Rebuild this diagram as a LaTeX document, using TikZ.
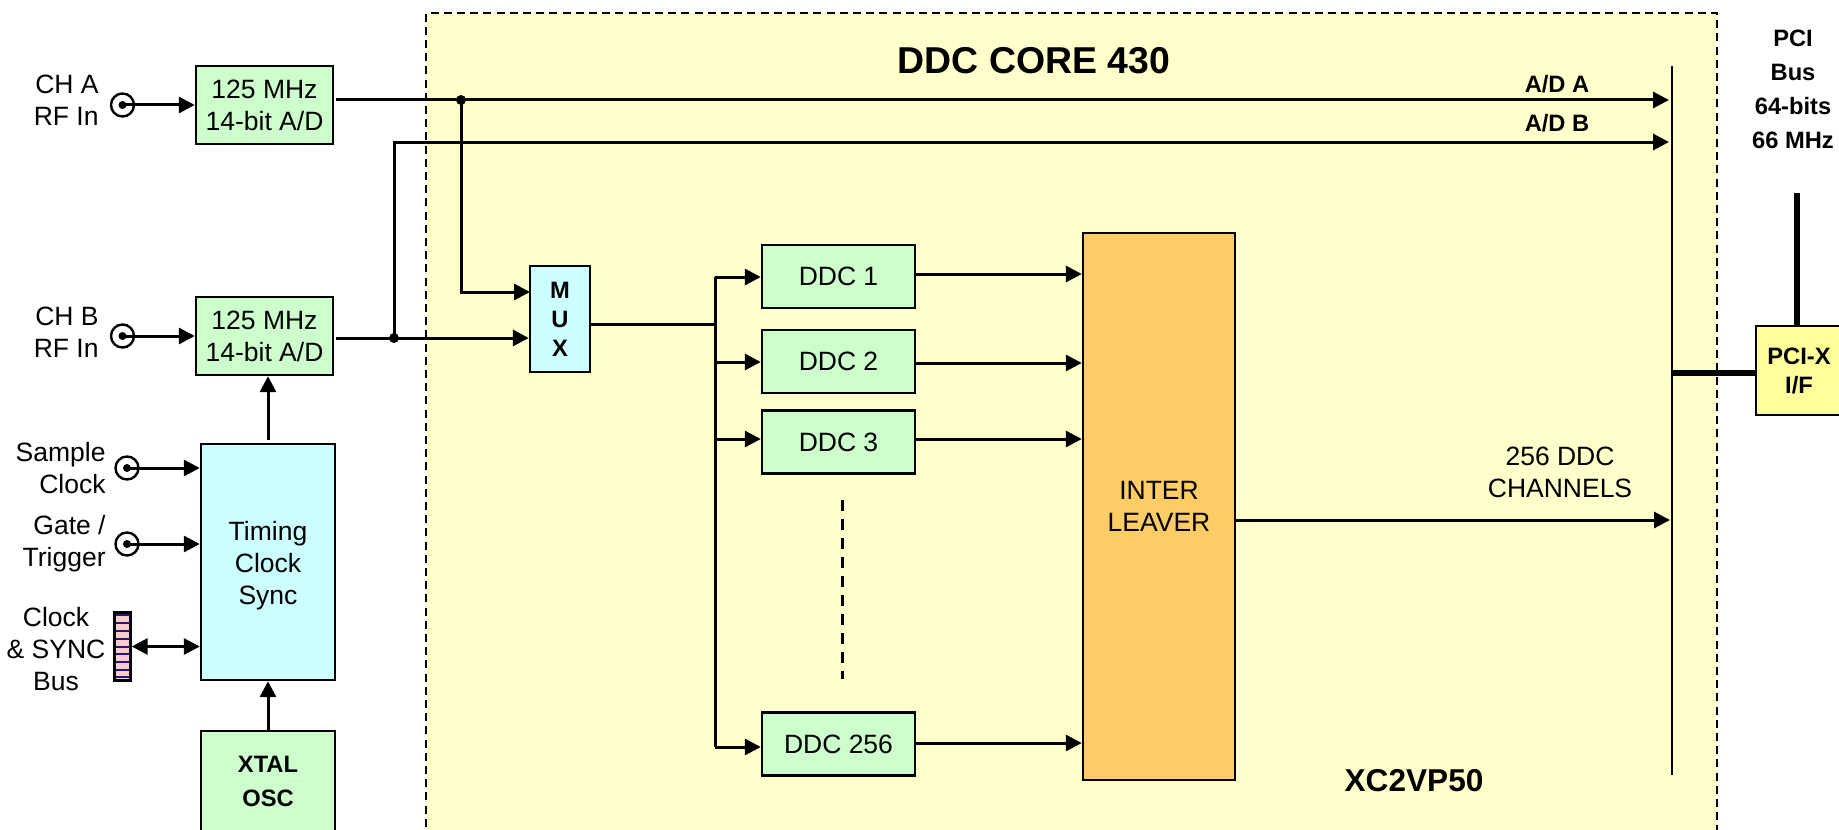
\documentclass[tikz,border=0pt]{standalone}
\usepackage{fontspec}
\setmainfont{Liberation Sans}
\usetikzlibrary{arrows.meta}
\definecolor{ddcgreen}{HTML}{CCFFCC}
\definecolor{clkcyan}{HTML}{CCFFFF}
\definecolor{coreyellow}{HTML}{FFFFCC}
\definecolor{ilvorange}{HTML}{FFCC66}
\definecolor{pciyellow}{HTML}{FFFF99}
\definecolor{buspink}{HTML}{FFCCCC}
\definecolor{busnavy}{HTML}{1A1A80}
\tikzset{
	block/.style={draw=black, line width=1.2pt, inner sep=0pt, align=center, font=\fontsize{13.25}{16}\selectfont, execute at begin node={\vspace*{1pt}}},
	boldblock/.style={block, font=\fontsize{11.85}{14.5}\selectfont\bfseries},
	txt/.style={inner sep=0pt, align=center, font=\fontsize{13.25}{16}\selectfont},
	boldtxt/.style={inner sep=0pt, align=center, font=\fontsize{11.85}{17}\selectfont\bfseries},
	sig/.style={line width=1.5pt, -{Triangle[length=8pt,width=8pt]}},
	wire/.style={line width=1.5pt},
	thickwire/.style={line width=3pt},
	jack/.style={circle, draw=black, line width=1.2pt, fill=white, inner sep=0pt, minimum size=11.5pt}
}
\begin{document}
\begin{tikzpicture}[x=0.5pt, y=-0.5pt]
	\useasboundingbox (0,0) rectangle (1839,829);
	\clip (0,0) rectangle (1839,829);

	% FPGA area
	\fill[coreyellow] (426,13) rectangle (1717,840);
	\draw[line width=1.1pt, dash pattern=on 4pt off 2.6pt] (426,840) -- (426,13) -- (1717,13) -- (1717,840);
	\node[boldtxt, font=\fontsize{18.7}{22}\selectfont\bfseries] (coretitle) at (1034,61) {DDC CORE 430};
	\node[boldtxt, font=\fontsize{15.8}{19}\selectfont\bfseries] (fpganame) at (1414,781) {XC2VP50};

	% A/D section
	\node[block, fill=ddcgreen, minimum width=68.5pt, minimum height=39pt] (adA) at (264.5,105) {125 MHz\\14-bit A/D};
	\node[block, fill=ddcgreen, minimum width=68.5pt, minimum height=39pt] (adB) at (264.5,336) {125 MHz\\14-bit A/D};
	\node[jack] (jackA) at (122.5,105) {};
	\node[jack] (jackB) at (122.5,336) {};
	\fill (jackA) circle (4);
	\fill (jackB) circle (4);
	\node[txt, align=right, anchor=east] (labA) at (99,100) {CH A\\RF In};
	\node[txt, align=right, anchor=east] (labB) at (99,332) {CH B\\RF In};
	\draw[sig] (jackA.center) -- (adA.west);
	\draw[sig] (jackB.center) -- (adB.west);

	% Timing section
	\node[block, fill=clkcyan, minimum width=67pt, minimum height=118pt] (tcs) at (268,562) {};
	\node[txt] (tcsText) at (268,566) {Timing\\Clock\\Sync};
	\node[boldblock, fill=ddcgreen, minimum width=67pt, minimum height=50pt, font=\fontsize{11.85}{17}\selectfont\bfseries] (xtal) at (268,781) {XTAL\\OSC};
	\node[jack] (jackS) at (127,468) {};
	\node[jack] (jackG) at (127,544) {};
	\fill (jackS) circle (4);
	\fill (jackG) circle (4);
	\node[txt, align=right, anchor=east] (labS) at (106,468) {Sample\\Clock};
	\node[txt, align=right, anchor=east] (labG) at (106,544) {Gate /\\Trigger};
	\node[txt] (labC) at (56,649) {Clock\\\& SYNC\\Bus};
	\node[draw=black, line width=1.2pt, fill=buspink, inner sep=0pt, minimum width=8pt, minimum height=34pt] (busconn) at (122.5,646.5) {};
	\foreach \y in {615,623,631,639,647,654,662,670,677}
		\draw[busnavy, line width=0.7pt] (115.5,\y) -- (129.5,\y);
	\draw[sig] (jackS.center) -- (tcs.west |- jackS.center);
	\draw[sig] (jackG.center) -- (tcs.west |- jackG.center);
	\draw[line width=1.5pt, {Triangle[length=8pt,width=8pt]}-{Triangle[length=8pt,width=8pt]}] (busconn.east) -- (tcs.west |- busconn.east);
	\draw[sig] (xtal.north) -- (tcs.south);
	\coordinate (tcsUp) at (268,440);
	\draw[sig] (tcsUp) -- (tcsUp |- adB.south);

	% Bus lines
	\coordinate (busTop) at (1672,66);
	\coordinate (busBot) at (1672,775);
	\coordinate (tipA) at (1669,100);
	\coordinate (tipB) at (1669,142);
	\coordinate (tapA) at (461,100);
	\coordinate (tapB) at (394,338);
	\draw[line width=1.3pt] (busTop) -- (busBot);
	\node[boldtxt] (labAdA) at (1557,84) {A/D A};
	\node[boldtxt] (labAdB) at (1557,123) {A/D B};

	% MUX
	\node[boldblock, fill=clkcyan, minimum width=30pt, minimum height=53pt] (mux) at (560,319) {M\\U\\X};
	\coordinate (muxA) at (530,292);
	\draw[sig, shorten <=1pt] (adA.east |- tapA) -- (tipA);
	\draw[sig] (tapA) -- (muxA -| tapA) -- (muxA);
	\draw[sig, shorten <=1pt] (adB.east |- tapB) -- (mux.west |- tapB);
	\draw[sig] (tapB) -- (tapB |- tipB) -- (tipB);
	\fill (tapA) circle (5);
	\fill (tapB) circle (5);

	% DDC section
	\node[block, fill=ddcgreen, minimum width=76.5pt, minimum height=31.5pt] (ddc1) at (838.5,276.5) {DDC 1};
	\node[block, fill=ddcgreen, minimum width=76.5pt, minimum height=31.5pt] (ddc2) at (838.5,361.5) {DDC 2};
	\node[block, fill=ddcgreen, minimum width=76.5pt, minimum height=31.5pt] (ddc3) at (838.5,442) {DDC 3};
	\node[block, fill=ddcgreen, minimum width=76.5pt, minimum height=31.5pt] (ddc256) at (838.5,744) {DDC 256};
	\node[block, fill=ilvorange, minimum width=76pt, minimum height=273.5pt] (ilv) at (1159,506.5) {INTER\\LEAVER};
	\coordinate (split) at (715,324);
	\draw[wire] (mux.east |- split) -- (split);
	\draw[wire] (split |- 0,277) -- (split |- 0,747);
	\draw[sig] (split |- 0,277) -- (ddc1.west |- 0,277);
	\draw[sig] (split |- 0,362) -- (ddc2.west |- 0,362);
	\draw[sig] (split |- 0,439) -- (ddc3.west |- 0,439);
	\draw[sig] (split |- 0,747) -- (ddc256.west |- 0,747);
	\draw[sig] (ddc1.east |- 0,274) -- (ilv.west |- 0,274);
	\draw[sig] (ddc2.east |- 0,363) -- (ilv.west |- 0,363);
	\draw[sig] (ddc3.east |- 0,439) -- (ilv.west |- 0,439);
	\draw[sig] (ddc256.east |- 0,743) -- (ilv.west |- 0,743);
	\coordinate (dotsTop) at (842.5,500);
	\coordinate (dotsBot) at (842.5,679);
	\draw[line width=1.2pt, dash pattern=on 5.5pt off 4pt] (dotsTop) -- (dotsBot);

	% Output
	\coordinate (ilvOut) at (1670,520);
	\draw[sig] (ilv.east |- ilvOut) -- (ilvOut);
	\node[txt] (labChan) at (1560,472) {256 DDC\\CHANNELS};

	% PCI
	\node[boldblock, fill=pciyellow, minimum width=43pt, minimum height=44.5pt] (pcix) at (1799,370.5) {PCI-X\\I/F};
	\node[boldtxt] (labPci) at (1793,89) {PCI\\Bus\\64-bits\\66 MHz};
	\coordinate (pciTop) at (1797,193);
	\coordinate (pciLeft) at (1756,373);
	\draw[thickwire] (pciTop) -- (pciTop |- pcix.north);
	\draw[thickwire] (busTop |- pciLeft) -- (pciLeft);
\end{tikzpicture}
\end{document}
